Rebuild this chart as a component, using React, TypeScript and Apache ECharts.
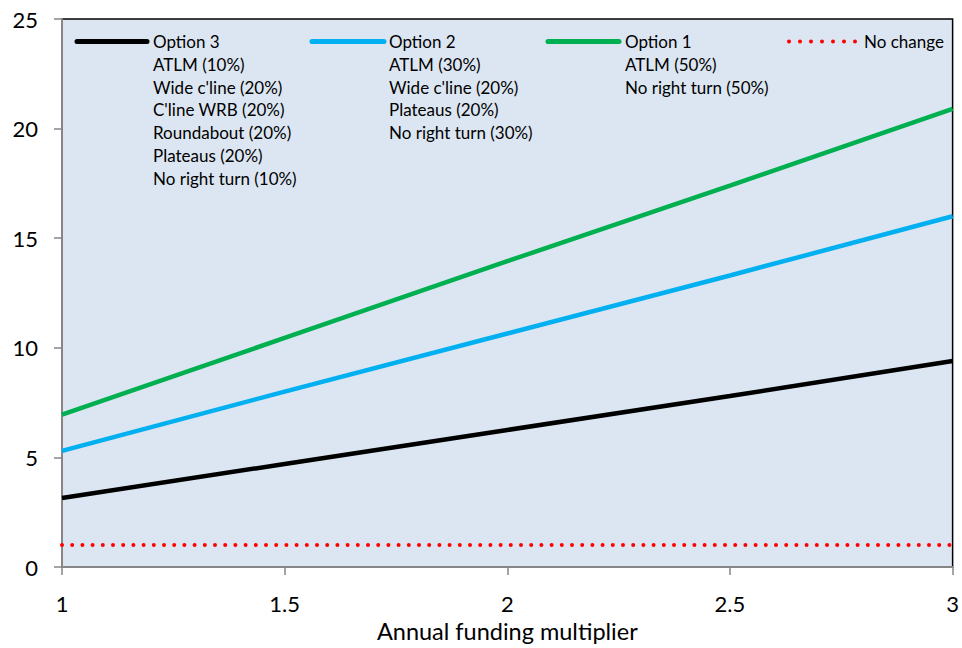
import React, { useEffect, useRef } from "react";
import * as echarts from "echarts";

const multipliers = [1, 1.5, 2, 2.5, 3];
const option3Values = [3.15, 4.7, 6.25, 7.8, 9.4];
const option2Values = [5.3, 8.0, 10.65, 13.3, 16.0];
const option1Values = [6.95, 10.45, 13.95, 17.4, 20.9];
const noChangeValues = [1, 1, 1, 1, 1];

const seriesNames = ["Option 3", "Option 2", "Option 1", "No change"];
const option3Lines = ["ATLM (10%)", "Wide c'line (20%)", "C'line WRB (20%)", "Roundabout (20%)", "Plateaus (20%)", "No right turn (10%)"];
const option2Lines = ["ATLM (30%)", "Wide c'line (20%)", "Plateaus (20%)", "No right turn (30%)"];
const option1Lines = ["ATLM (50%)", "No right turn (50%)"];
const noChangeLines: string[] = [];

const xTitle = "Annual funding multiplier";

const colors = ["#000000", "#00B0F0", "#00B050", "#FF0000"];
const FONT = "Lato, 'Open Sans', sans-serif";

export default function App() {
  const ref = useRef<HTMLDivElement>(null);
  useEffect(() => {
    if (!ref.current) return;
    const chart = echarts.init(ref.current, undefined, { renderer: "svg" });
    const pairs = (vals: number[]) => multipliers.map((m, i) => [m, vals[i]]);
    const allValues = [option3Values, option2Values, option1Values, noChangeValues];
    const allLines = [option3Lines, option2Lines, option1Lines, noChangeLines];
    const legendX = [77, 312, 548, 789];
    const legendLineLen = [70, 72, 71, 67];
    const textX = [153, 389, 625, 864];
    const rowY = 41.5;
    const rowH = 22.8;

    const legendGraphics: any[] = [];
    seriesNames.forEach((name, i) => {
      const dotted = i === 3;
      legendGraphics.push({
        type: "line",
        shape: { x1: legendX[i], y1: rowY, x2: legendX[i] + legendLineLen[i], y2: rowY },
        style: dotted
          ? { stroke: colors[i], lineWidth: 4, lineDash: [0, 11], lineCap: "round" }
          : { stroke: colors[i], lineWidth: 5, lineCap: "round" },
        z: 10,
      });
      [name, ...allLines[i]].forEach((t, j) => {
        legendGraphics.push({
          type: "text",
          x: textX[i],
          y: rowY + j * rowH,
          style: {
            text: t,
            fill: "#000",
            font: `17px ${FONT}`,
            textVerticalAlign: "middle",
            textAlign: "left",
          },
          z: 10,
        });
      });
    });

    chart.setOption({
      animation: false,
      grid: {
        left: 62,
        top: 19,
        right: 6,
        bottom: 76.5,
        show: true,
        backgroundColor: "#DCE6F2",
        borderColor: "#000",
        borderWidth: 1.5,
      },
      xAxis: {
        type: "value",
        min: 1,
        max: 3,
        interval: 0.5,
        name: xTitle,
        nameLocation: "middle",
        nameGap: 52,
        nameTextStyle: { fontFamily: FONT, fontSize: 23.5, color: "#000" },
        axisLine: { show: true, lineStyle: { color: "#868686", width: 2 } },
        axisTick: { show: true, length: 8, lineStyle: { color: "#868686", width: 1.5 } },
        axisLabel: { fontFamily: FONT, fontSize: 22, color: "#000", margin: 25 },
        splitLine: { show: false },
      },
      yAxis: {
        type: "value",
        min: 0,
        max: 25,
        interval: 5,
        axisLine: { show: true, lineStyle: { color: "#868686", width: 2 } },
        axisTick: { show: true, length: 8, lineStyle: { color: "#868686", width: 1.5 } },
        axisLabel: { fontFamily: FONT, fontSize: 22, color: "#000", margin: 24 },
        splitLine: { show: false },
      },
      series: seriesNames.map((name, i) => ({
        name,
        type: "line",
        data: pairs(allValues[i]),
        showSymbol: false,
        smooth: false,
        lineStyle:
          i === 3
            ? { color: colors[i], width: 4, type: [0, 10.2], cap: "round" }
            : { color: colors[i], width: 4.5 },
        z: 3,
      })),
      graphic: legendGraphics,
    });
    return () => chart.dispose();
  }, []);
  return (
    <div
      ref={ref}
      style={{ position: "fixed", left: 0, top: 0, width: 962, height: 648, background: "#fff" }}
    />
  );
}
